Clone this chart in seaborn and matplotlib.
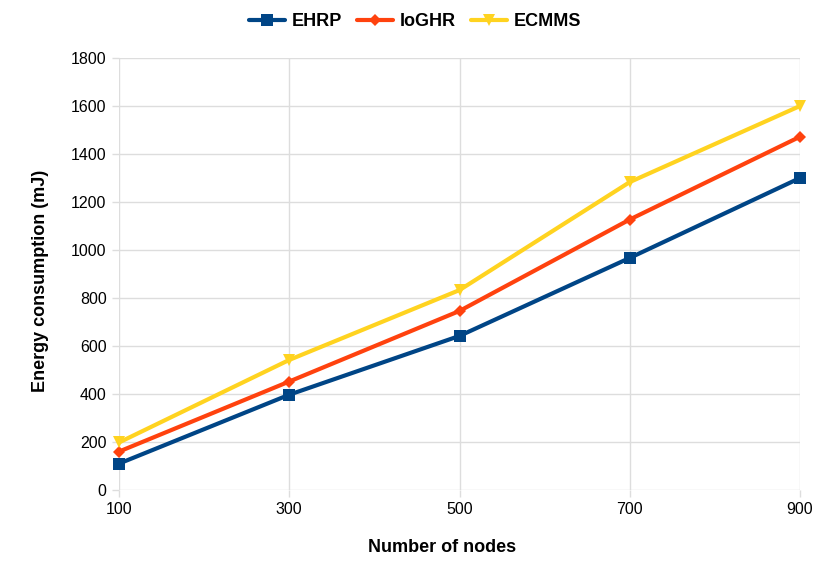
import matplotlib
matplotlib.use("Agg")
import matplotlib.pyplot as plt
import seaborn as sns
import pandas as pd

nodes = [100, 300, 500, 700, 900]
ehrp = [110, 397, 642, 967, 1300]
ioghr = [160, 452, 746, 1127, 1472]
ecmms = [198, 542, 833, 1283, 1600]
series_names = ["EHRP", "IoGHR", "ECMMS"]

df = pd.DataFrame({
    "nodes": nodes * 3,
    "value": ehrp + ioghr + ecmms,
    "series": [series_names[0]] * 5 + [series_names[1]] * 5 + [series_names[2]] * 5,
})

sns.set_theme(style="white")
plt.rcParams['font.family'] = ['Liberation Sans', 'DejaVu Sans']
plt.rcParams['text.color'] = 'black'
plt.rcParams['axes.labelcolor'] = 'black'

fig = plt.figure(figsize=(8.3, 5.81), dpi=100)
ax = fig.add_axes([119/830, 1-490/581, (800-119)/830, (490-58)/581])

palette = {"EHRP": "#004586", "IoGHR": "#ff420e", "ECMMS": "#ffd320"}
markers = {"EHRP": "s", "IoGHR": "D", "ECMMS": "v"}
sizes = {"EHRP": 9, "IoGHR": 6, "ECMMS": 9}

sns.lineplot(data=df, x="nodes", y="value", hue="series", style="series",
             palette=palette, markers=markers, dashes=False, linewidth=3,
             ax=ax, legend=False)
for line, name in zip(ax.lines, series_names):
    line.set_markersize(sizes[name])
    line.set_markeredgewidth(0)
    line.set_clip_on(False)
    line.set_label(name)

ax.set_xlim(100, 900)
ax.set_ylim(0, 1800)
ax.set_xticks(nodes)
ax.set_yticks(range(0, 1801, 200))
ax.grid(True, color="#dddddd", linewidth=1)
for s in ax.spines.values():
    s.set_visible(False)
ax.tick_params(axis="both", which="both", length=5, width=1, color="#dddddd",
               labelsize=11.5, labelcolor="black", direction="out", pad=4, bottom=True, left=True)
ax.set_xlabel("Number of nodes", fontsize=13, fontweight="bold", color="black")
ax.set_ylabel("Energy consumption (mJ)", fontsize=13, fontweight="bold", color="black")
ax.xaxis.set_label_coords((442-119)/(800-119), -(547-490)/(490-58))
ax.xaxis.label.set_va("center")
ax.yaxis.set_label_coords(-(119-40)/(800-119), (490-281)/(490-58))
ax.yaxis.label.set_va("center")

handles = ax.lines[:3]
leg = fig.legend(handles=handles, labels=series_names, loc="center", bbox_to_anchor=(415/830, 1-22/581),
                 ncol=3, frameon=False, prop={"size": 13, "weight": "bold"},
                 handlelength=2.0, columnspacing=0.8, handletextpad=0.4)
for t in leg.get_texts():
    t.set_color("black")

fig.savefig("out.png", dpi=100)
